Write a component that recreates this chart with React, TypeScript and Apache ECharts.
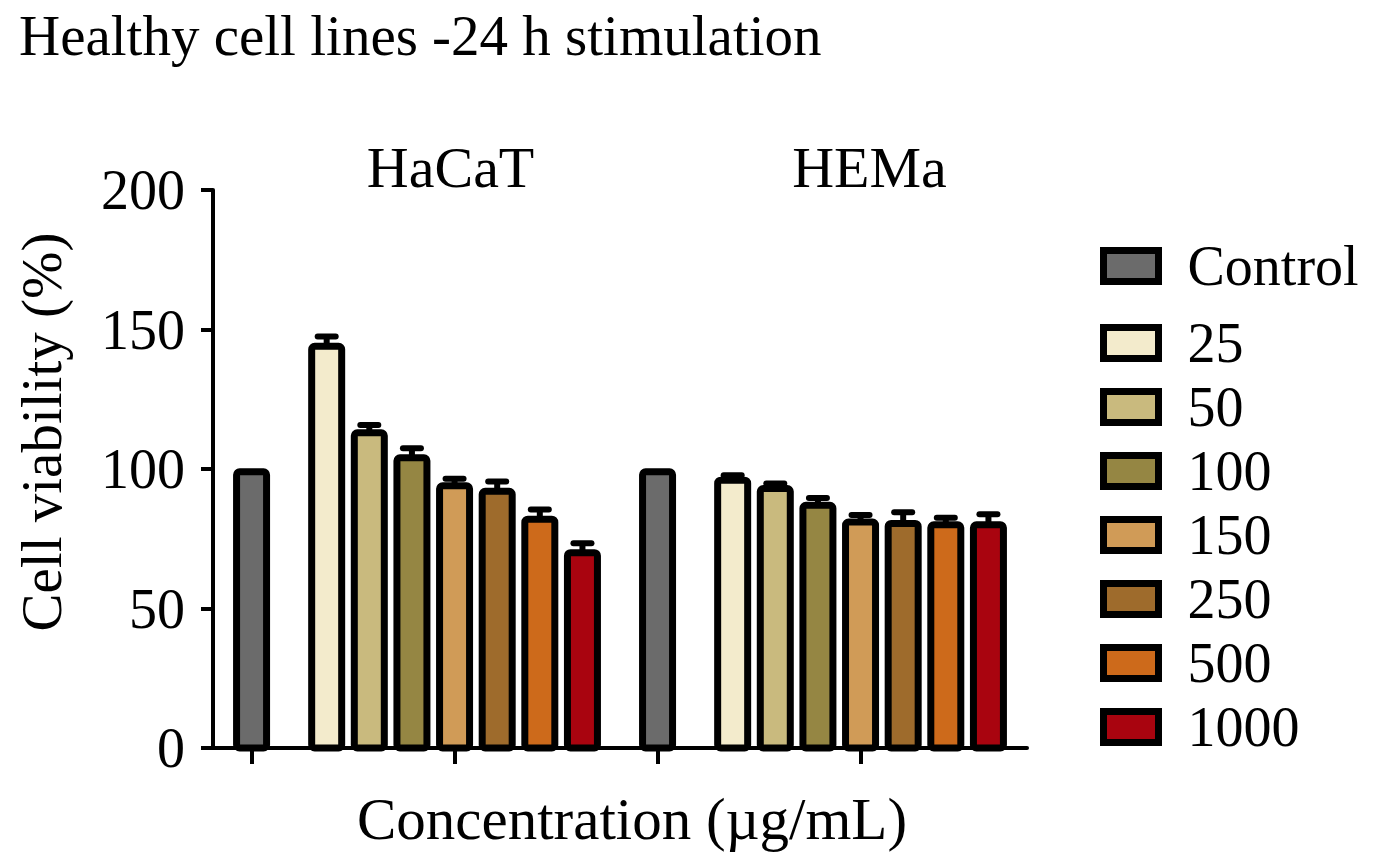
import React, { useEffect, useRef } from 'react';
import * as echarts from 'echarts';

const chartTitle = 'Healthy cell lines -24 h stimulation';
const groups = ['HaCaT', 'HEMa'];
const seriesNames = ['Control', '25', '50', '100', '150', '250', '500', '1000'];
const colors = ['#6b6b6b', '#f3ebcc', '#c9ba7e', '#958643', '#d09b57', '#9e6b2c', '#cd6a1b', '#a9040f'];
const hacatValues = [99, 144, 113, 104, 94, 92, 82, 70];
const hacatErrors = [0, 3.5, 2.8, 3.4, 2.5, 3.5, 3.5, 3.4];
const hemaValues = [99, 96, 93, 87, 81, 80.5, 80, 80];
const hemaErrors = [0, 1.8, 1.8, 2.6, 2.5, 4, 2.5, 3.8];
const yTicks = [0, 50, 100, 150, 200];
const xAxisName = 'Concentration (µg/mL)';
const yAxisName = 'Cell viability (%)';

const FONT = "'Liberation Serif', 'Times New Roman', serif";
const values = [hacatValues, hemaValues];
const errors = [hacatErrors, hemaErrors];

// layout helpers (positions on the x value axis)
const GROUP_SPAN = 2;
const STEP = 0.21;
const MID = 4;
const BAR_W = 30;
const posOf = (g: number, i: number) => g * GROUP_SPAN + (i === 0 ? 0 : 1 + (i - MID) * STEP);

export default function App() {
  const ref = useRef<HTMLDivElement>(null);
  useEffect(() => {
    if (!ref.current) return;
    const chart = echarts.init(ref.current, undefined, { renderer: 'svg' });

    const barSeries = seriesNames.map((name, i) => ({
      name,
      type: 'custom',
      xAxisIndex: 0,
      yAxisIndex: 0,
      data: groups.map((_, g) => [posOf(g, i), values[g][i]]),
      itemStyle: { color: colors[i], borderColor: '#000', borderWidth: 7 },
      silent: true,
      z: 2,
      renderItem: (params: any, api: any) => {
        const x = api.value(0);
        const v = api.value(1);
        const top = api.coord([x, v]);
        const base = api.coord([x, 0]);
        return {
          type: 'rect',
          shape: { x: top[0] - BAR_W / 2, y: top[1], width: BAR_W, height: base[1] - top[1], r: 3 },
          style: { fill: colors[i], stroke: '#000', lineWidth: 7 },
        };
      },
    }));

    const errData: number[][] = [];
    groups.forEach((_, g) => {
      seriesNames.forEach((__, i) => {
        if (errors[g][i] > 0) errData.push([posOf(g, i), values[g][i], errors[g][i]]);
      });
    });

    const tickValues = groups.flatMap((_, g) => [posOf(g, 0), posOf(g, MID)]);
    const groupLabelValues = groups.map((_, g) => posOf(g, MID));

    const legendCommon = {
      orient: 'vertical',
      left: 1100,
      padding: 0,
      itemWidth: 55,
      itemHeight: 31,
      icon: 'rect',
      selectedMode: false,
      itemStyle: { borderColor: '#000', borderWidth: 7 },
      textStyle: { fontFamily: FONT, fontSize: 56, color: '#000', padding: [0, 0, 0, 24] },
    };

    const option: any = {
      animation: false,
      title: {
        text: chartTitle,
        left: 19,
        top: 7,
        padding: 0,
        textStyle: { fontFamily: FONT, fontSize: 57, fontWeight: 'normal', color: '#000' },
      },
      grid: { left: 213, right: 361, top: 190, bottom: 117, containLabel: false },
      xAxis: [
        {
          type: 'value',
          min: -0.19,
          max: 3.82,
          axisLine: { show: true, onZero: false, lineStyle: { color: '#000', width: 4 } },
          axisTick: { show: true, customValues: tickValues, length: 16, lineStyle: { color: '#000', width: 4 } },
          axisLabel: { show: false },
          splitLine: { show: false },
        },
        {
          type: 'value',
          position: 'top',
          min: -0.19,
          max: 3.82,
          axisLine: { show: false },
          axisTick: { show: false },
          splitLine: { show: false },
          axisLabel: {
            show: true,
            customValues: groupLabelValues,
            formatter: (v: number) => {
              const g = Math.round((v - 1) / GROUP_SPAN);
              return `{g${g}|${groups[g] ?? ''}}`;
            },
            rich: {
              g0: { fontFamily: FONT, fontSize: 58, color: '#000', padding: [0, 8, 0, 0] },
              g1: { fontFamily: FONT, fontSize: 58, color: '#000', padding: [0, 0, 0, 18] },
            },
            fontFamily: FONT,
            fontSize: 58,
            color: '#000',
            margin: -6,
          },
        },
      ],
      yAxis: {
        type: 'value',
        min: yTicks[0],
        max: yTicks[yTicks.length - 1],
        interval: yTicks[1] - yTicks[0],
        axisLine: { show: true, onZero: false, lineStyle: { color: '#000', width: 4 } },
        axisTick: { show: true, length: 12, lineStyle: { color: '#000', width: 4 } },
        axisLabel: { fontFamily: FONT, fontSize: 56, color: '#000', margin: 28 },
        splitLine: { show: false },
      },
      legend: [
        { ...legendCommon, data: ['Control'], top: 238 },
        { ...legendCommon, data: seriesNames.slice(1), top: 315, itemGap: 8 },
      ],
      graphic: [
        {
          type: 'text',
          x: 41,
          y: 432,
          rotation: Math.PI / 2,
          style: { text: yAxisName, fontFamily: FONT, fontSize: 57, fill: '#000', align: 'center', verticalAlign: 'middle' },
        },
        {
          type: 'text',
          x: 632,
          y: 819,
          style: { text: xAxisName, fontFamily: FONT, fontSize: 59, fill: '#000', align: 'center', verticalAlign: 'middle' },
        },
      ],
      series: [
        ...barSeries,
        {
          name: 'errors',
          type: 'custom',
          xAxisIndex: 0,
          yAxisIndex: 0,
          z: 3,
          silent: true,
          data: errData,
          renderItem: (params: any, api: any) => {
            const x = api.value(0);
            const v = api.value(1);
            const e = api.value(2);
            const p0 = api.coord([x, v]);
            const p1 = api.coord([x, v + e]);
            return {
              type: 'group',
              children: [
                { type: 'line', shape: { x1: p0[0], y1: p0[1], x2: p1[0], y2: p1[1] }, style: { stroke: '#000', lineWidth: 6 } },
                { type: 'line', shape: { x1: p1[0] - 9, y1: p1[1], x2: p1[0] + 9, y2: p1[1] }, style: { stroke: '#000', lineWidth: 6, lineCap: 'round' } },
              ],
            };
          },
        },
      ],
    };
    chart.setOption(option);
    return () => chart.dispose();
  }, []);
  return <div ref={ref} style={{ position: 'absolute', left: 0, top: 0, width: 1388, height: 865, background: '#fff' }} />;
}
